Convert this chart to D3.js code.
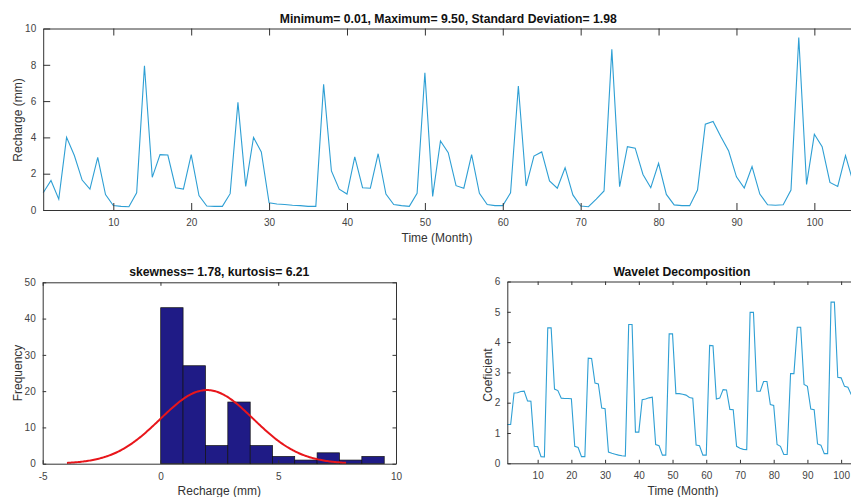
<!DOCTYPE html>
<html>
<head>
<meta charset="utf-8">
<script src="https://cdn.jsdelivr.net/npm/d3@7"></script>
<style>
  body { margin: 0; background: #fff; }
  svg { display: block; font-family: "Liberation Sans", Arial, sans-serif; }
  .tick text { fill: #444; font-size: 10px; }
  .tick line, .domain { stroke: #333; }
  .lbl { fill: #333; font-size: 12px; }
  .ttl { fill: #111; font-size: 12.2px; font-weight: bold; }
</style>
</head>
<body>
<div id="chart"></div>
<script>
const width = 851;
const height = 497;

// Monthly recharge (mm), months 1..105
const months = d3.range(1, 106);
const recharge = [
  0.95, 1.63, 0.60, 4.00, 3.00, 1.65, 1.15, 2.90, 0.85, 0.25,
  0.20, 0.18, 0.95, 7.95, 1.80, 3.05, 3.03, 1.23, 1.15, 3.05,
  0.80, 0.22, 0.20, 0.20, 0.90, 5.93, 1.30, 4.00, 3.20, 0.40,
  0.33, 0.30, 0.26, 0.24, 0.20, 0.20, 6.92, 2.15, 1.15, 0.88,
  2.93, 1.23, 1.20, 3.10, 0.88, 0.30, 0.24, 0.20, 0.92, 7.56,
  0.75, 3.80, 3.16, 1.34, 1.20, 3.05, 0.92, 0.30, 0.24, 0.24,
  0.95, 6.83, 1.32, 2.97, 3.20, 1.60, 1.20, 2.33, 0.83, 0.22,
  0.18, 0.60, 1.05, 8.85, 1.28, 3.49, 3.41, 1.96, 1.23, 2.57,
  0.86, 0.28, 0.24, 0.24, 1.10, 4.73, 4.88, 4.04, 3.25, 1.83,
  1.21, 2.39, 0.88, 0.29, 0.26, 0.29, 1.10, 9.50, 1.41, 4.17,
  3.49, 1.52, 1.30, 3.00, 1.50
];

// Wavelet approximation coefficients, months 1..105
const coefficient = [
  1.28, 1.28, 2.32, 2.33, 2.37, 2.38, 2.06, 2.05, 0.56, 0.55,
  0.22, 0.21, 4.47, 4.47, 2.45, 2.40, 2.15, 2.14, 2.14, 2.13,
  0.56, 0.52, 0.22, 0.22, 3.47, 3.46, 2.65, 2.62, 1.82, 1.80,
  0.37, 0.33, 0.30, 0.27, 0.25, 0.24, 4.58, 4.58, 1.03, 1.03,
  2.10, 2.12, 2.16, 2.18, 0.62, 0.58, 0.27, 0.27, 4.27, 4.27,
  2.30, 2.30, 2.28, 2.25, 2.17, 2.15, 0.60, 0.58, 0.27, 0.27,
  3.89, 3.88, 2.12, 2.15, 2.43, 2.42, 1.78, 1.77, 0.56, 0.50,
  0.46, 0.45, 4.98, 4.98, 2.38, 2.38, 2.70, 2.70, 1.94, 1.91,
  0.62, 0.56, 0.29, 0.29, 2.96, 2.96, 4.49, 4.49, 2.60, 2.54,
  1.79, 1.77, 0.64, 0.60, 0.32, 0.32, 5.32, 5.32, 2.84, 2.82,
  2.54, 2.51, 2.27, 2.00, 1.80
];

// Histogram of recharge
const binEdges = [0.01, 0.96, 1.91, 2.86, 3.81, 4.76, 5.70, 6.65, 7.60, 8.55, 9.50];
const binCounts = [43, 27, 5, 17, 5, 2, 1, 3, 1, 2];

// Normal fit
const fitMean = 1.97;
const fitSd = 1.98;
const sampleSize = 106;

const monthTicks = [10, 20, 30, 40, 50, 60, 70, 80, 90, 100];
const rechargeTicks = [0, 2, 4, 6, 8, 10];
const histXTicks = [-5, 0, 5, 10];
const freqTicks = [0, 10, 20, 30, 40, 50];
const coefTicks = [0, 1, 2, 3, 4, 5, 6];

const lineColor = "#2e9fd4";

const svg = d3.select("#chart").append("svg")
    .attr("width", width)
    .attr("height", height);

// draws a MATLAB-like box: inward ticks on all sides that are visible
function drawFrame(g, x, y, xTicks, yTicks, tick, showRight) {
    const [x0, x1] = x.range();
    const [y0, y1] = y.range();
    const fmt = d => String(d);
    g.append("g")
        .attr("transform", `translate(0,${y0})`)
        .call(d3.axisBottom(x).tickValues(xTicks).tickFormat(fmt).tickSize(-tick).tickSizeOuter(0).tickPadding(9));
    g.append("g")
        .attr("transform", `translate(0,${y1})`)
        .call(d3.axisTop(x).tickValues(xTicks).tickSize(-tick).tickSizeOuter(0).tickFormat(""));
    g.append("g")
        .attr("transform", `translate(${x0},0)`)
        .call(d3.axisLeft(y).tickValues(yTicks).tickFormat(fmt).tickSize(-tick).tickSizeOuter(0).tickPadding(7));
    if (showRight) {
        g.append("g")
            .attr("transform", `translate(${x1},0)`)
            .call(d3.axisRight(y).tickValues(yTicks).tickSize(-tick).tickSizeOuter(0).tickFormat(""));
    }
}

// ---- Top: recharge time series
const xTop = d3.scaleLinear().domain([1, 105]).range([43.2, 853.3]);
const yTop = d3.scaleLinear().domain([0, 10]).range([210, 28.5]);

const topG = svg.append("g");
topG.append("path")
    .datum(recharge)
    .attr("fill", "none")
    .attr("stroke", lineColor)
    .attr("stroke-width", 1.1)
    .attr("d", d3.line().x((d, i) => xTop(months[i])).y(d => yTop(d)));
drawFrame(topG, xTop, yTop, monthTicks, rechargeTicks, 7, false);

topG.append("text").attr("class", "ttl")
    .attr("x", (xTop.range()[0] + xTop.range()[1]) / 2).attr("y", 22.5)
    .attr("text-anchor", "middle")
    .text("Minimum= 0.01, Maximum= 9.50, Standard Deviation= 1.98");
topG.append("text").attr("class", "lbl")
    .attr("x", 437).attr("y", 242)
    .attr("text-anchor", "middle")
    .text("Time (Month)");
topG.append("text").attr("class", "lbl")
    .attr("transform", "translate(22,120) rotate(-90)")
    .attr("text-anchor", "middle")
    .text("Recharge (mm)");

// ---- Bottom left: histogram
const xHist = d3.scaleLinear().domain([-5, 10]).range([42.7, 396]);
const yHist = d3.scaleLinear().domain([0, 50]).range([463.7, 282.3]);

const hist = svg.append("g");
hist.selectAll("rect")
    .data(binCounts)
    .join("rect")
    .attr("x", (d, i) => xHist(binEdges[i]))
    .attr("width", (d, i) => xHist(binEdges[i + 1]) - xHist(binEdges[i]))
    .attr("y", d => yHist(d))
    .attr("height", d => yHist(0) - yHist(d))
    .attr("fill", "#1f1b86")
    .attr("stroke", "#111")
    .attr("stroke-width", 0.7);

const binWidth = binEdges[1] - binEdges[0];
const fitX = d3.range(fitMean - 3 * fitSd, fitMean + 3 * fitSd, 0.05);
const fitY = fitX.map(v => sampleSize * binWidth * Math.exp(-0.5 * ((v - fitMean) / fitSd) ** 2) / (fitSd * Math.sqrt(2 * Math.PI)));
hist.append("path")
    .datum(fitX)
    .attr("fill", "none")
    .attr("stroke", "#e8161b")
    .attr("stroke-width", 2)
    .attr("d", d3.line().x(d => xHist(d)).y((d, i) => yHist(fitY[i])));
drawFrame(hist, xHist, yHist, histXTicks, freqTicks, 3.5, true);

hist.append("text").attr("class", "ttl")
    .attr("x", 219.3).attr("y", 276)
    .attr("text-anchor", "middle")
    .text("skewness= 1.78, kurtosis= 6.21");
hist.append("text").attr("class", "lbl")
    .attr("x", 219.3).attr("y", 495)
    .attr("text-anchor", "middle")
    .text("Recharge (mm)");
hist.append("text").attr("class", "lbl")
    .attr("transform", "translate(22,373) rotate(-90)")
    .attr("text-anchor", "middle")
    .text("Frequency");

// ---- Bottom right: wavelet decomposition
const xWav = d3.scaleLinear().domain([1, 105]).range([507.3, 858]);
const yWav = d3.scaleLinear().domain([0, 6]).range([463.3, 281.5]);

const wav = svg.append("g");
wav.append("path")
    .datum(coefficient)
    .attr("fill", "none")
    .attr("stroke", lineColor)
    .attr("stroke-width", 1.1)
    .attr("d", d3.line().x((d, i) => xWav(months[i])).y(d => yWav(d)));
drawFrame(wav, xWav, yWav, monthTicks, coefTicks, 3.5, false);

wav.append("text").attr("class", "ttl")
    .attr("x", 682).attr("y", 276)
    .attr("text-anchor", "middle")
    .text("Wavelet Decomposition");
wav.append("text").attr("class", "lbl")
    .attr("x", 683).attr("y", 495)
    .attr("text-anchor", "middle")
    .text("Time (Month)");
wav.append("text").attr("class", "lbl")
    .attr("transform", "translate(492,375) rotate(-90)")
    .attr("text-anchor", "middle")
    .text("Coeficient");
</script>
</body>
</html>
